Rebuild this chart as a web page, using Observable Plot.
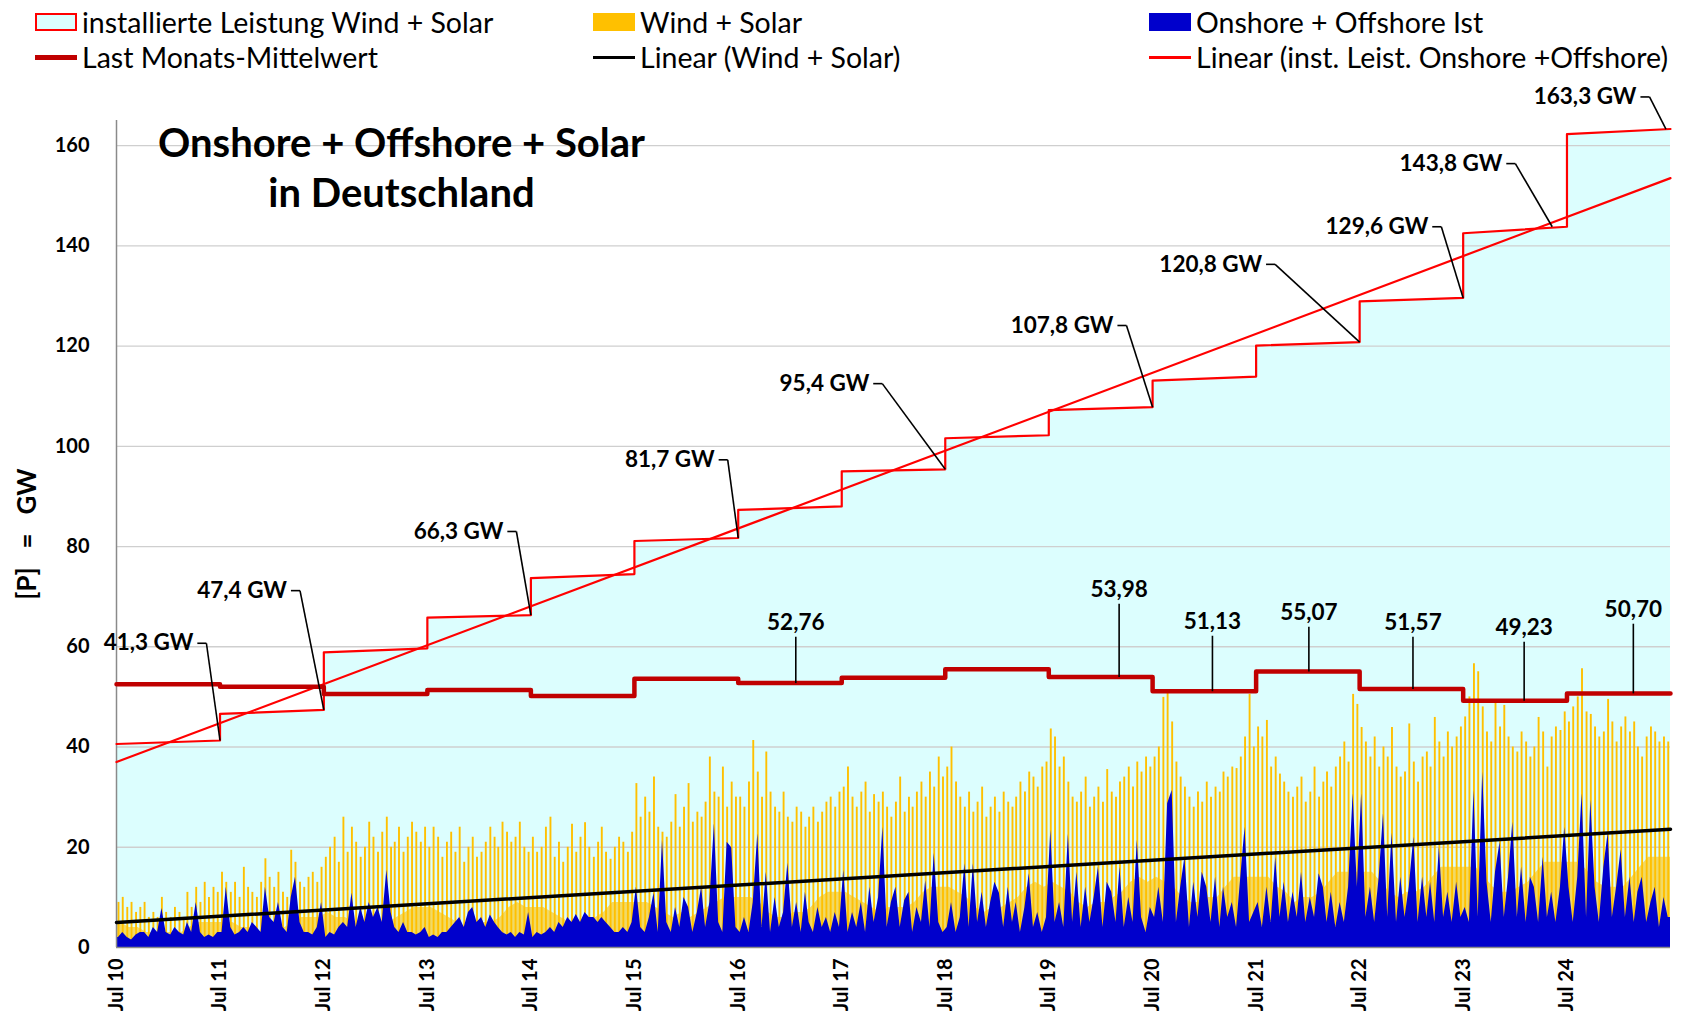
<!DOCTYPE html>
<html><head><meta charset="utf-8">
<script src="https://cdn.jsdelivr.net/npm/d3@7"></script>
<script src="https://cdn.jsdelivr.net/npm/@observablehq/plot@0.6"></script>
<style>
body{margin:0;background:#fff;font-family:Lato,"Open Sans",sans-serif;}
#wrap{position:relative;width:1682px;height:1017px;overflow:hidden;background:#fff}
#legend{position:relative;height:80px;}
.li{position:absolute;display:flex;align-items:center;font-size:28.5px;color:#000;white-space:nowrap;height:32px}
.sw{width:42px;height:18px;margin-right:5px;box-sizing:border-box}
.ln{width:42px;margin-right:5px}
#chart svg{display:block}
</style></head><body>
<div id="wrap"><div id="legend"></div><div id="chart"></div></div>
<script>
// ---------- DATA ----------
// installed capacity (GW) per year Jul..Jul: start and end of each yearly segment
const capStart = [40.6, 46.6, 58.9, 65.8, 73.7, 81.1, 87.3, 95.0, 101.6, 107.2, 113.1, 120.1, 128.9, 142.5, 162.3];
const capEnd   = [41.3, 47.4, 59.7, 66.3, 74.5, 81.7, 88.0, 95.4, 102.2, 107.8, 113.9, 120.8, 129.6, 143.8, 163.3];
// monthly mean load (GW), one value per year Jul..Jul
const loadMean = [52.5, 52.0, 50.6, 51.4, 50.2, 53.6, 52.76, 53.8, 55.5, 53.98, 51.13, 55.07, 51.57, 49.23, 50.70];
// linear trends: values at Jul 10 and Jul 25
const capTrendEnds = [37.0, 153.5];
const wsTrendEnds = [5.0, 23.6];
// wind + solar, half-monthly peak values (GW), rows = years Jul..Jun
const windSolarPeak = [
 [9,10,8,9,7,8,9,6,7,6,10,7,6,8,7,6,11,8,12,9,13,10,12,11],
 [15,13,11,13,10,16,12,11,10,13,17.7,14,12,15,11,10,19.4,17,13,12,14,15,13,16],
 [18,20,22,17,26,19,24,21,18,20,25,22,19,23,26,20,21,24,19,22,25,23,21,24],
 [20,24,22,18,21,23,19,24,17,20,22,18,19,21,24,22,20,25,23,21,22,25,20,19],
 [22,19,20,24,26,18,21,17,20,24.6,19,22,24.9,20,18,21,24,19,17.6,20,22,21,19,23],
 [32.7,26,30,27,34,24,23,22,25,30.5,24,28,32.7,25,27,26,29,38,31,30,36,28,33,30],
 [30,28,33,41.3,35,30,39,31,28,27,31,26,25,28,27,24,26,28,25,27,29,30,28,31],
 [32,36,30,28,31,33,27,30.5,29,31,28,26,29,34,27,30,28,31,33,30,35,32,38,34],
 [36,40,33,30,28,31,27,29,32,26,28,30,27,31,29,28,30,33,31,35,34,32,36,37],
 [43.6,42,36,38,33,30,29,31,34,28,30,32,29,35.5,31,30,33,34,36,32,37,35,38,36],
 [38,40,49.9,51.2,45,37,34,32,30,28,31,29,33,30,32,31,35,34,36,35.7,38,42,50.5,40],
 [44,42,45.3,36,38,34.6,33,31,30,32,34,29,31,36,30,33,35,32,36,38,41,37,50.5,48.5],
 [43.9,41,38,42,36,40,38,43.9,36,34,35,44.6,37,33,38,39,36,45.9,41,38,43,40,42,44],
 [46,50,56.6,55,48,43,41,48.9,44,48.3,42,40,39,43,41,38,40,45.9,43,36,42,44,43.3,47],
 [45,48,50,55.6,47,46.5,44,42,43,49.5,45,41,44,46,43,45,40,38,42,44,43,41,42,41]
];
// wind + solar, dense lower band (monthly, GW), rows = years Jul..Jun
const windSolarBase = [
 [5,4,4,3,3,3,3,3,4,5,5,5],
 [5,5,4,4,3,4,4,4,5,6,6,6],
 [7,6,6,5,4,5,4,5,6,7,8,8],
 [8,7,6,5,4,4,5,5,6,8,9,8],
 [8,8,7,6,5,5,5,6,7,9,9,9],
 [9,9,8,7,6,7,6,7,8,9,10,10],
 [10,10,9,7,6,6,7,7,8,10,11,11],
 [11,10,9,8,7,8,8,8,9,11,12,12],
 [12,11,10,8,7,8,8,9,10,12,13,12],
 [13,12,11,9,8,9,9,10,11,13,14,13],
 [14,13,12,10,9,9,10,10,12,14,14,14],
 [14,14,12,11,9,10,10,11,13,15,15,15],
 [15,15,13,11,10,11,11,12,14,16,16,16],
 [16,16,14,12,11,11,12,13,15,17,17,17],
 [17,17,15,13,12,12,12,14,16,18,18,18]
];
// onshore + offshore wind actual, half-monthly values (GW), rows = years Jul..Jun
const windActual = [
 [2,3,2,1.5,2.5,3,3,2,4,3,7.8,3,2.5,4,3,2.5,5,3,9,3,2,2.5,2,3],
 [3,12,4,2.5,3,4,3,5,4,3,12,6,5,9,4,3,10,14,5,3,3,2.5,4,9],
 [2,3,2.5,4,5,4,10.8,4,8,5,9,6,8,5,15.4,7,4,3,5,3,3,2.5,3,4],
 [2,2.5,2,3,3,4,5,6,4,7,8,5,6,4,6.5,5,4,3,2.5,3,2,3,2.5,7],
 [2,3,2.5,3,4,3,5,4,6,5,6.6,5,7,6,6,5,6,5,4,3,3,4,3,5],
 [12,4,3,6,10.8,3,21.4,5,3,8,4,10,8,3,7,12,4,9,24.7,5,3,21,19.9,4],
 [3,6,3,9,22.7,4,15,3,10,4,7,16.8,4,9,3,11,5,3,8,4,6,3,7,4],
 [15.4,3,7,4,9,3,12,5,10,24,4,9,12,4,9.4,11,3,8,5,13.3,4,18.8,5,3],
 [4,9,3,6,16.7,4,16.7,5,11,4,9,13,10.8,4,12,5,9,3,8,14.7,4,7,3,6],
 [23.4,5,9,4,22.6,5,15,4,12,5,10,16,4,13,11,5,16,4,10,5,21.4,6,3,8],
 [6,12,5,28.7,31.3,5,12,18,4,13,6,15,12,5,14,4,12,6,9,4,14,24,5,7],
 [9,4,12,5,18,6,13,5,11,6,15,5,10,6,14.7,12,5,11,4,9,5,12,30.7,12],
 [30.7,6,12,5,14,26.7,6,22.8,5,14,6,12,22,5,14,6,13,5,20,6,11,5,13,6],
 [8,5,31.3,6,35,13,5,15,21,6,14,25,6,16,5,14,12,5,18,6,11,5,12,24],
 [12,5,14,30.7,6,29.4,12,5,16,22.8,6,12,19.5,6,14,5,11,14,5,9,12,4,10,6]
];
// axis ticks
const yTicks = [0,20,40,60,80,100,120,140,160];
const xTickLabels = ["Jul 10","Jul 11","Jul 12","Jul 13","Jul 14","Jul 15","Jul 16","Jul 17","Jul 18","Jul 19","Jul 20","Jul 21","Jul 22","Jul 23","Jul 24"];
// capacity annotations: text, label corner (date, GW), pointer target (date, GW)
const capLabelText = ["41,3 GW","47,4 GW","66,3 GW","81,7 GW","95,4 GW","107,8 GW","120,8 GW","129,6 GW","143,8 GW","163,3 GW"];
const capLabelDate = ["2011-05-14","2012-04-08","2014-05-11","2016-05-25","2017-11-21","2020-03-31","2021-09-06","2023-04-15","2024-01-01","2025-04-18"];
const capLabelV    = [60.7, 71.2, 83.0, 97.3, 112.5, 124.1, 136.3, 143.8, 156.4, 169.7];
const capPointDate = ["2011-07-01","2012-07-01","2014-07-01","2016-07-01","2018-07-01","2020-07-01","2022-07-01","2023-07-01","2024-05-10","2025-06-15"];
const capPointV    = [41.3, 47.4, 66.3, 81.7, 95.4, 107.8, 120.8, 129.6, 143.8, 163.3];
// load annotations: text, date, GW of text centre
const loadLabelText = ["52,76","53,98","51,13","55,07","51,57","49,23","50,70"];
const loadLabelDate = ["2017-01-20","2020-03-05","2021-01-28","2022-01-03","2023-01-05","2024-02-01","2025-02-20"];
const loadLabelV    = [64.8, 71.4, 65.0, 66.8, 64.8, 63.8, 67.4];
// legend
const legendItems = [
  {label:"installierte Leistung Wind + Solar", kind:"box", fill:"#dcfefe", stroke:"#ff0000", col:0, row:0},
  {label:"Wind + Solar", kind:"box", fill:"#FFC000", col:1, row:0},
  {label:"Onshore + Offshore Ist", kind:"box", fill:"#0000CC", col:2, row:0},
  {label:"Last Monats-Mittelwert", kind:"line", stroke:"#C00000", w:5, col:0, row:1},
  {label:"Linear (Wind + Solar)", kind:"line", stroke:"#000", w:3, col:1, row:1},
  {label:"Linear (inst. Leist. Onshore +Offshore)", kind:"line", stroke:"#ff0000", w:3, col:2, row:1}
];

// ---------- BUILD ----------
const parse = d3.utcParse("%Y-%m-%d");
const yearStart = k => new Date(Date.UTC(2010 + k, 6, 1));
const xStart = yearStart(0), xEnd = yearStart(15);

const capData = capStart.flatMap((s, k) => [{d: yearStart(k), v: s}, {d: yearStart(k + 1), v: capEnd[k]}]);
const loadData = loadMean.flatMap((v, k) => [{d: yearStart(k), v}, {d: yearStart(k + 1), v}]);
const capTrend = [{d: xStart, v: capTrendEnds[0]}, {d: xEnd, v: capTrendEnds[1]}];
const wsTrend = [{d: xStart, v: wsTrendEnds[0]}, {d: xEnd, v: wsTrendEnds[1]}];
const halfMonth = (k, j) => new Date(Date.UTC(2010 + k, 6 + Math.floor(j / 2), j % 2 ? 23 : 8));
const peakData = windSolarPeak.flatMap((row, k) => row.map((v, j) => ({d: halfMonth(k, j), v})));
const windData = [{d: xStart, v: windActual[0][0]}, ...windActual.flatMap((row, k) => row.map((v, j) => ({d: halfMonth(k, j), v}))), {d: xEnd, v: windActual[14][23]}];
const baseData = [{d: xStart, v: windSolarBase[0][0]}, ...windSolarBase.flatMap((row, k) => row.map((v, j) => ({d: new Date(Date.UTC(2010 + k, 6 + j, 15)), v}))), {d: xEnd, v: windSolarBase[14][11]}];
const xTicks = xTickLabels.map((_, k) => yearStart(k));
const tickLabel = new Map(xTicks.map((d, i) => [+d, xTickLabels[i]]));

const capLabels = capLabelText.map((t, i) => ({t, cd: parse(capLabelDate[i]), cv: capLabelV[i], pd: parse(capPointDate[i]), pv: capPointV[i]}));
const loadLabels = loadLabelText.map((t, i) => {
  const d = parse(loadLabelDate[i]);
  const k = Math.min(14, Math.max(0, d3.utcYear.count(xStart, d3.utcMonth.offset(d, -6))));
  return {t, d, v: loadLabelV[i], lv: loadMean[k]};
});

const chart = Plot.plot({
  width: 1682, height: 937,
  marginLeft: 116, marginRight: 12, marginTop: 40, marginBottom: 70,
  x: {type: "utc", domain: [xStart, xEnd]},
  y: {domain: [0, 165]},
  style: {fontFamily: "Lato, 'Open Sans', sans-serif", background: "#fff", color: "#000", overflow: "visible"},
  marks: [
    Plot.areaY(capData, {x: "d", y1: 0, y2: "v", fill: "#dcfefe", curve: "linear"}),
    Plot.gridY(yTicks.slice(1), {stroke: "#cfcfcf", strokeOpacity: 1, strokeWidth: 1.3}),
    Plot.areaY(baseData, {x: "d", y1: 0, y2: "v", fill: "#FFC000", fillOpacity: 0.6, curve: "linear"}),
    Plot.ruleX(peakData, {x: "d", y1: 0, y2: "v", stroke: "#FFC000", strokeWidth: 1.9}),
    Plot.areaY(windData, {x: "d", y1: 0, y2: "v", fill: "#0000CC", curve: "linear"}),
    Plot.ruleX([xStart], {y1: 0, y2: 165, stroke: "#8a8a8a", strokeWidth: 1.5}),
    Plot.ruleY([0], {stroke: "#8a8a8a", strokeWidth: 1.5}),
    Plot.line(wsTrend, {x: "d", y: "v", stroke: "#000", strokeWidth: 3.5}),
    Plot.line(capTrend, {x: "d", y: "v", stroke: "#ff0000", strokeWidth: 2.2}),
    Plot.line(capData, {x: "d", y: "v", stroke: "#ff0000", strokeWidth: 2.2}),
    Plot.line(loadData, {x: "d", y: "v", stroke: "#C00000", strokeWidth: 4.5}),
    // capacity annotations
    Plot.link(capLabels, {x1: d => d3.utcDay.offset(d.cd, -32), x2: "cd", y1: "cv", y2: "cv", stroke: "#000", strokeWidth: 1.6}),
    Plot.link(capLabels, {x1: "cd", y1: "cv", x2: "pd", y2: "pv", stroke: "#000", strokeWidth: 1.6}),
    Plot.text(capLabels, {x: "cd", y: "cv", text: "t", textAnchor: "end", dx: -13, fontSize: 22.5, fontWeight: "bold", fill: "#000"}),
    // load annotations
    Plot.link(loadLabels, {x1: "d", x2: "d", y1: d => d.v - 2.8, y2: "lv", stroke: "#000", strokeWidth: 1.6}),
    Plot.text(loadLabels, {x: "d", y: "v", text: "t", fontSize: 22.5, fontWeight: "bold", fill: "#000"}),
    // title
    Plot.text(["Onshore + Offshore + Solar\nin Deutschland"], {frameAnchor: "top-left", dx: 285, dy: 1, lineAnchor: "top", lineHeight: 1.25, fontSize: 40, fontWeight: "bold", textAnchor: "middle", fill: "#000"}),
    // y label
    Plot.text(["[P]\u00a0\u00a0\u00a0=\u00a0\u00a0\u00a0GW"], {frameAnchor: "left", dx: -89, rotate: -90, textAnchor: "middle", fontSize: 26, fontWeight: "bold", fill: "#000"}),
    // axes
    Plot.axisY(yTicks, {tickSize: 0, tickPadding: 27, fontSize: 20, fontWeight: "bold", label: null}),
    Plot.axisX(xTicks, {tickFormat: d => tickLabel.get(+d), tickRotate: -90, tickSize: 0, tickPadding: 11, fontSize: 20, fontWeight: "bold", label: null})
  ]
});
document.getElementById("chart").appendChild(chart);

// legend
const colX = [35, 593, 1149], rowY = [5.5, 41];
const leg = document.getElementById("legend");
for (const it of legendItems) {
  const el = document.createElement("div");
  el.className = "li";
  el.style.left = colX[it.col] + "px";
  el.style.top = rowY[it.row] + "px";
  const sw = document.createElement("div");
  if (it.kind === "box") {
    sw.className = "sw";
    sw.style.background = it.fill;
    if (it.stroke) sw.style.border = "2px solid " + it.stroke;
  } else {
    sw.className = "ln";
    sw.style.height = it.w + "px";
    sw.style.background = it.stroke;
  }
  el.appendChild(sw);
  const tx = document.createElement("span");
  tx.textContent = it.label;
  el.appendChild(tx);
  leg.appendChild(el);
}
</script>
</body></html>
